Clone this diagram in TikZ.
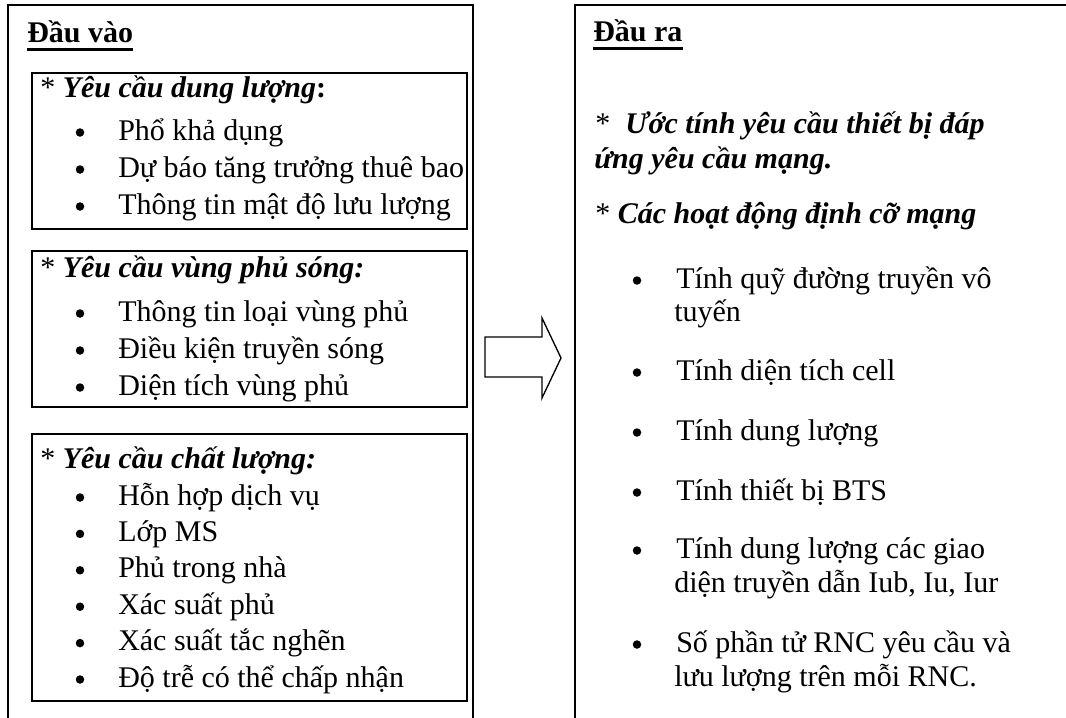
\documentclass[tikz,border=0pt]{standalone}
\usepackage{fontspec}
\setmainfont{Liberation Serif}
\begin{document}
\begin{tikzpicture}[x=0.75pt,y=-0.75pt,
  frame/.style={draw, line width=1.2pt},
  box/.style={draw, line width=1.2pt, anchor=north west, inner sep=0pt},
  txt/.style={anchor=base west, inner sep=0pt, font=\fontsize{22.5}{27}\selectfont},
  dot/.style={circle, fill, inner sep=0pt, minimum size=8.5*0.75pt},
  ttl/.style={anchor=base west, inner sep=0pt, font=\fontsize{22.5}{27}\selectfont\bfseries},
  uline/.style={line width=2.2pt},
  blockarrow/.style={draw, line width=1pt, line join=miter}
]
\useasboundingbox (0,0) rectangle (1066,717);

% open frames of the two columns (they run past the bottom edge)
\draw[frame] (8,718) -- (8,5) -- (473,5) -- (473,718);
\draw[frame] (575,718) -- (575,5) -- (1068,5);

% ---------- inputs ----------
\node[ttl] (tin) at (27,43) {Đầu vào};
\draw[uline] ([yshift=-4.6pt]tin.base west) -- ([yshift=-4.6pt]tin.base east);

% capacity requirements
\node[box, minimum width=435*0.75pt, minimum height=156*0.75pt] (cap) at (31,72) {};
\node[txt] (caph) at (40,97) {* \textbf{\textit{Yêu cầu dung lượng}}\textbf{:}};
\foreach \t [count=\i] in {Phổ khả dụng, Dự báo tăng trưởng thuê bao, Thông tin mật độ lưu lượng}{
  \node[dot] (capb\i) at (80,95.5+37*\i) {};
  \node[txt] (capt\i) at (118,103+37*\i) {\t};
}

% coverage requirements
\node[box, minimum width=435*0.75pt, minimum height=156*0.75pt] (cov) at (31,250) {};
\node[txt] (covh) at (40,277) {* \textbf{\textit{Yêu cầu vùng phủ sóng:}}};
\foreach \t [count=\i] in {Thông tin loại vùng phủ, Điều kiện truyền sóng, Diện tích vùng phủ}{
  \node[dot] (covb\i) at (80,276.5+37*\i) {};
  \node[txt] (covt\i) at (118,284+37*\i) {\t};
}

% quality requirements
\node[box, minimum width=435*0.75pt, minimum height=267*0.75pt] (qos) at (31,433) {};
\node[txt] (qosh) at (40,468) {* \textbf{\textit{Yêu cầu chất lượng:}}};
\foreach \t [count=\i] in {Hỗn hợp dịch vụ, Lớp MS, Phủ trong nhà, Xác suất phủ, Xác suất tắc nghẽn, Độ trễ có thể chấp nhận}{
  \node[dot] (qosb\i) at (80,461.1+36.4*\i) {};
  \node[txt] (qost\i) at (118,468.6+36.4*\i) {\t};
}

% ---------- flow arrow ----------
\draw[blockarrow] (485,337) -- (542,337) -- (542,318) -- (561,358)
  -- (542,398) -- (542,377) -- (485,377) -- cycle;

% ---------- outputs ----------
\node[ttl] (tout) at (593,42) {Đầu ra};
\draw[uline] ([yshift=-4.6pt]tout.base west) -- ([yshift=-4.6pt]tout.base east);

\node[txt] (est1) at (595,133) {*\ \ \textbf{\textit{Ước tính yêu cầu thiết bị đáp}}};
\node[txt] (est2) at (594,168) {\textbf{\textit{ứng yêu cầu mạng.}}};
\node[txt] (act) at (595,223) {* \textbf{\textit{Các hoạt động định cỡ mạng}}};

\foreach \y/\t [count=\i] in {288/Tính quỹ đường truyền vô, 380/Tính diện tích cell,
    440/Tính dung lượng, 500/Tính thiết bị BTS, 558/Tính dung lượng các giao,
    652/Số phần tử RNC yêu cầu và}{
  \node[dot] (ob\i) at (637,\y-7.5) {};
  \node[txt] (ot\i) at (676,\y) {\t};
}
\node[txt] (ot1b) at (674,321) {tuyến};
\node[txt] (ot5b) at (674,592) {diện truyền dẫn Iub, Iu, Iur};
\node[txt] (ot6b) at (674,686) {lưu lượng trên mỗi RNC.};
\end{tikzpicture}
\end{document}
